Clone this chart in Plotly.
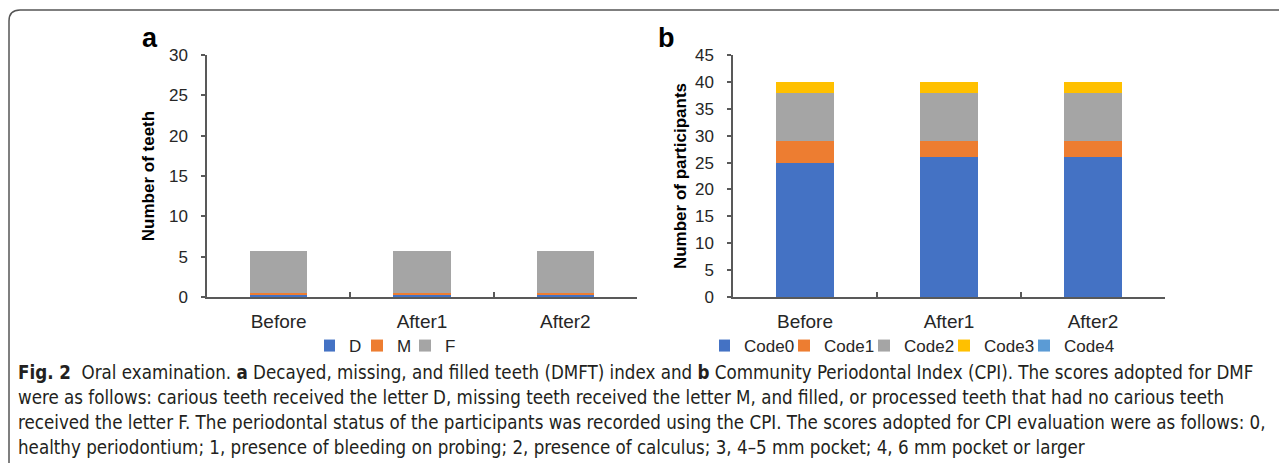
import plotly.graph_objects as go

PAGE_W, PAGE_H = 1287, 471
OFF = 8  # default body margin of the html page
W, H = PAGE_W - 2 * OFF, PAGE_H - 2 * OFF

# ---- data ----
categories = ["Before", "After1", "After2"]
dmft_D = [0.25, 0.25, 0.25]
dmft_M = [0.2, 0.2, 0.2]
dmft_F = [5.3, 5.3, 5.3]

cpi_code0 = [25, 26, 26]
cpi_code1 = [4, 3, 3]
cpi_code2 = [9, 9, 9]
cpi_code3 = [2, 2, 2]
cpi_code4 = [0, 0, 0]

dmft_names = ["D", "M", "F"]
cpi_names = ["Code0", "Code1", "Code2", "Code3", "Code4"]
dmft_colors = ["#4472C4", "#ED7D31", "#A5A5A5"]
cpi_colors = ["#4472C4", "#ED7D31", "#A5A5A5", "#FFC000", "#5B9BD5"]


def px(x):
    return (x - OFF) / W


def py(y):
    return 1 - (y - OFF) / H


fig = go.Figure()

for name, vals, col in zip(dmft_names, [dmft_D, dmft_M, dmft_F], dmft_colors):
    fig.add_trace(go.Bar(x=categories, y=vals, name=name, marker_color=col,
                         marker_line_width=0, xaxis="x", yaxis="y", legend="legend"))

for name, vals, col in zip(cpi_names, [cpi_code0, cpi_code1, cpi_code2, cpi_code3, cpi_code4], cpi_colors):
    fig.add_trace(go.Bar(x=categories, y=vals, name=name, marker_color=col,
                         marker_line_width=0, xaxis="x2", yaxis="y2", legend="legend2"))

ARIAL = "Liberation Sans, Arial, sans-serif"
axis_col = "#595959"
tickfont = dict(family=ARIAL, size=17, color="#262626")
catfont = dict(family=ARIAL, size=19, color="#262626")
titlefont = dict(family=ARIAL, size=17, color="#000000")
legfont = dict(family=ARIAL, size=17, color="#262626")

xcommon = dict(type="category", showline=True, linecolor=axis_col, linewidth=1.5,
               ticks="inside", tickson="boundaries", ticklen=5, tickcolor=axis_col,
               tickwidth=1.5, tickfont=catfont, showgrid=False, zeroline=False,
               ticklabelstandoff=6, automargin=False)
ycommon = dict(showline=True, linecolor=axis_col, linewidth=1.5, ticks="outside",
               ticklen=4, tickcolor=axis_col, tickwidth=1.5, tickfont=tickfont,
               showgrid=False, zeroline=False, dtick=5, ticklabelstandoff=10,
               automargin=False)

fig.update_layout(
    width=W, height=H,
    margin=dict(l=0, r=0, t=0, b=0, pad=0, autoexpand=False),
    paper_bgcolor="white", plot_bgcolor="white",
    barmode="stack", bargap=0.6,
    xaxis=dict(domain=[px(207), px(637)], anchor="y", **xcommon),
    yaxis=dict(domain=[py(297), py(55)], anchor="x", range=[0, 30],
               title=dict(text="<b>Number of teeth</b>", font=titlefont, standoff=10), **ycommon),
    xaxis2=dict(domain=[px(733), px(1165)], anchor="y2", **xcommon),
    yaxis2=dict(domain=[py(297), py(55)], anchor="x2", range=[0, 45],
                title=dict(text="<b>Number of participants</b>", font=titlefont, standoff=4), **ycommon),
    legend=dict(orientation="h", x=px(324), xanchor="left", y=py(346), yanchor="middle",
                font=legfont, itemwidth=30, indentation=-15, traceorder="normal",
                entrywidth=18, entrywidthmode="pixels", bgcolor="rgba(0,0,0,0)"),
    legend2=dict(orientation="h", x=px(719), xanchor="left", y=py(346), yanchor="middle",
                 font=legfont, itemwidth=30, indentation=-15, traceorder="normal",
                 entrywidth=50, entrywidthmode="pixels", bgcolor="rgba(0,0,0,0)"),
    showlegend=True,
)

# panel letters
fig.add_annotation(text="<b>a</b>", x=px(150), y=py(38), xref="paper", yref="paper",
                   xanchor="center", yanchor="middle", showarrow=False,
                   font=dict(family=ARIAL, size=27, color="#000"))
fig.add_annotation(text="<b>b</b>", x=px(667), y=py(38), xref="paper", yref="paper",
                   xanchor="center", yanchor="middle", showarrow=False,
                   font=dict(family=ARIAL, size=27, color="#000"))

# caption
cap_font = dict(family="DejaVu Sans Condensed, Liberation Sans Narrow, sans-serif",
                size=18.6, color="#231F20")
caption_lines = [
    "<b>Fig. 2</b>  Oral examination. <b>a</b> Decayed, missing, and filled teeth (DMFT) index and <b>b</b> Community Periodontal Index (CPI). The scores adopted for DMF",
    "were as follows: carious teeth received the letter D, missing teeth received the letter M, and filled, or processed teeth that had no carious teeth",
    "received the letter F. The periodontal status of the participants was recorded using the CPI. The scores adopted for CPI evaluation were as follows: 0,",
    "healthy periodontium; 1, presence of bleeding on probing; 2, presence of calculus; 3, 4\u20135 mm pocket; 4, 6 mm pocket or larger",
]
for i, line in enumerate(caption_lines):
    fig.add_annotation(text=line, x=px(16), y=py(372 + 25 * i), xref="paper", yref="paper",
                       xanchor="left", yanchor="middle", showarrow=False, font=cap_font)

# rounded border (cropped at right and bottom)
r = 11
path = (f"M {px(9)},{py(PAGE_H)} L {px(9)},{py(10 + r)} "
        f"Q {px(9)},{py(10)} {px(9 + r)},{py(10)} L {px(PAGE_W)},{py(10)}")
fig.add_shape(type="path", path=path, xref="paper", yref="paper",
              line=dict(color="#555555", width=1.5))

fig.write_html("out.html")
